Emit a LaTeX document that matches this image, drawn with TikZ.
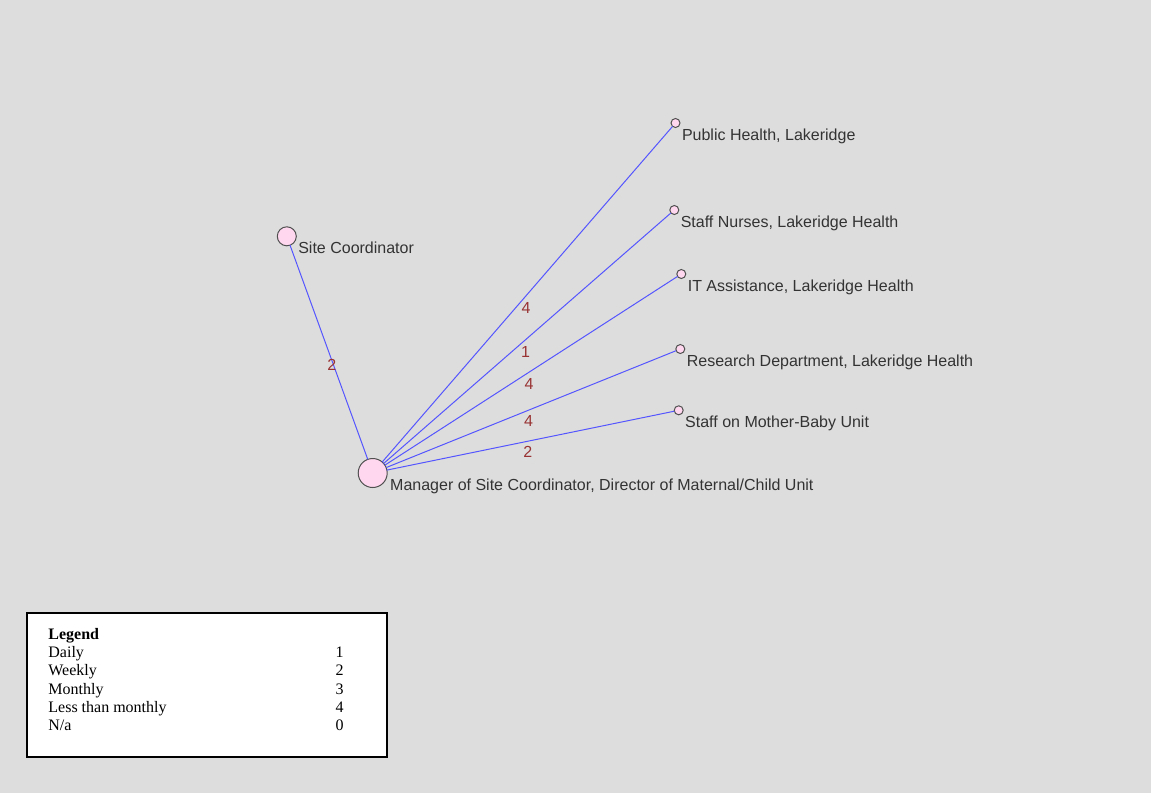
\documentclass[tikz,border=0pt]{standalone}
\usepackage{fontspec}
\setmainfont{Liberation Serif}
\setsansfont{Liberation Sans}
\usepackage{xcolor}
\usepackage{tikz}
\usetikzlibrary{calc, positioning}

\definecolor{bgGray}{RGB}{221,221,221}
\definecolor{nodePink}{RGB}{255,215,238}
\definecolor{ringGray}{RGB}{80,80,80}
\definecolor{edgeBlue}{RGB}{85,85,255}
\definecolor{wtRed}{RGB}{153,51,51}

\begin{document}
\begin{tikzpicture}[x=0.5pt, y=-0.5pt,
  actor/.style={circle, draw=ringGray, fill=nodePink, line width=0.5pt, inner sep=0pt, outer sep=0pt},
  who/.style={anchor=north west, inner sep=1pt, outer sep=0pt, yshift=-1.8pt, text=black!80,
    font=\sffamily\fontsize{8}{9.6}\selectfont},
  tie/.style={draw=edgeBlue, line width=0.5pt},
  wt/.style={text=wtRed, inner sep=0pt, xshift=1pt, yshift=-5pt, font=\sffamily\fontsize{8}{9.6}\selectfont},
  key/.style={anchor=base west, inner sep=0pt, font=\fontsize{8}{9.6}\selectfont},
  keyval/.style={anchor=base, inner sep=0pt, font=\fontsize{8}{9.6}\selectfont}]

\fill[bgGray] (0,0) rectangle (1151,793);
\useasboundingbox (0,0) rectangle (1151,793);

% actors
\node[actor, minimum size=14.5pt, label={[who, xshift=0.5pt]0:{Manager of Site Coordinator, Director of Maternal/Child Unit}}] (mgr) at (372.7,473) {};
\node[actor, minimum size=9.5pt, label={[who]0:Site Coordinator}] (site) at (286.8,236.3) {};
\node[actor, minimum size=4.5pt, label={[who]0:{Public Health, Lakeridge}}] (pub) at (675.5,123) {};
\node[actor, minimum size=4.5pt, label={[who]0:{Staff Nurses, Lakeridge Health}}] (nurse) at (674.3,210) {};
\node[actor, minimum size=4.5pt, label={[who]0:{IT Assistance, Lakeridge Health}}] (it) at (681.3,274) {};
\node[actor, minimum size=4.5pt, label={[who]0:{Research Department, Lakeridge Health}}] (res) at (680.3,349) {};
\node[actor, minimum size=4.5pt, label={[who]0:Staff on Mother-Baby Unit}] (mbu) at (678.7,410.3) {};

% ties
\draw[tie] (mgr) -- (site);
\draw[tie] (mgr) -- (pub);
\draw[tie] (mgr) -- (nurse);
\draw[tie] (mgr) -- (it);
\draw[tie] (mgr) -- (res);
\draw[tie] (mgr) -- (mbu);

% tie strengths
\node[wt] (wsite) at ($(mgr)!.5!(site)$) {2};
\node[wt] (wpub) at ($(mgr)!.5!(pub)$) {4};
\node[wt] (wnurse) at ($(mgr)!.5!(nurse)$) {1};
\node[wt] (wit) at ($(mgr)!.5!(it)$) {4};
\node[wt] (wres) at ($(mgr)!.5!(res)$) {4};
\node[wt] (wmbu) at ($(mgr)!.5!(mbu)$) {2};

% legend
\draw[fill=white, line width=1pt] (27,613) rectangle (387,757);
\node[key, font=\bfseries\fontsize{8}{9.6}\selectfont] (legend) at (48,639) {Legend};
\node[key] (daily) at (48,657.5) {Daily};
\node[key] (weekly) at (48,675.8) {Weekly};
\node[key] (monthly) at (48,694) {Monthly};
\node[key] (less) at (48,712.3) {Less than monthly};
\node[key] (na) at (48,730.5) {N/a};
\node[keyval] (vdaily) at (339.5,657.5) {1};
\node[keyval] (vweekly) at (339.5,675.8) {2};
\node[keyval] (vmonthly) at (339.5,694) {3};
\node[keyval] (vless) at (339.5,712.3) {4};
\node[keyval] (vna) at (339.5,730.5) {0};
\end{tikzpicture}
\end{document}
